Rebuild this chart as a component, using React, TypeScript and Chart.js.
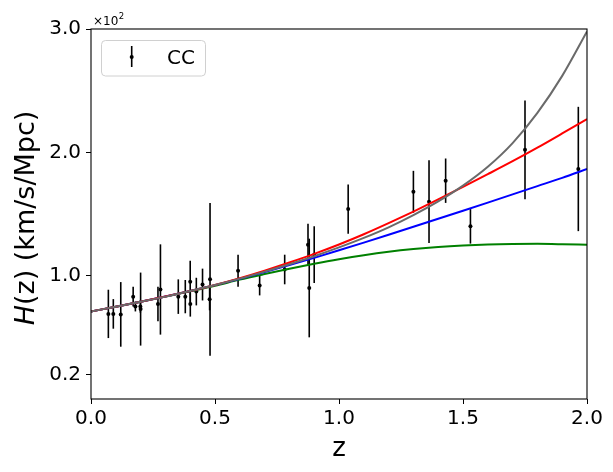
import { useEffect, useRef } from "react";
import { Chart, registerables } from "chart.js";

Chart.register(...registerables);

// Cosmic chronometer data
const ccZ = [0.07, 0.09, 0.12, 0.17, 0.179, 0.199, 0.2, 0.27, 0.28, 0.352, 0.3802, 0.4, 0.4004, 0.4247, 0.4497, 0.4783, 0.48, 0.593, 0.68, 0.781, 0.875, 0.88, 0.9, 1.037, 1.3, 1.363, 1.43, 1.53, 1.75, 1.965];
const ccH = [69, 69, 68.6, 83, 75, 75, 72.9, 77, 88.8, 83, 83, 95, 77, 87.1, 92.8, 80.9, 97, 104, 92, 105, 125, 90, 117, 154, 168, 160, 177, 140, 202, 186.5];
const ccErr = [19.6, 12, 26.2, 8, 4, 5, 29.6, 14, 36.6, 14, 13.5, 17, 10.2, 11.2, 12.9, 9, 62, 13, 8, 12, 17, 40, 23, 20, 17, 33.6, 18, 14, 40, 50.4];

// Model curves
const zGrid = [0, 0.1, 0.2, 0.3, 0.4, 0.5, 0.6, 0.7, 0.8, 0.9, 1.0, 1.1, 1.2, 1.3, 1.4, 1.5, 1.6, 1.7, 1.8, 1.9, 2.0];
const grayH = [71, 74.8, 78.8, 83.0, 87.6, 92.4, 97.6, 103.3, 109.3, 115.8, 122.9, 130.6, 139.2, 149.1, 160.2, 173.0, 188.3, 207.5, 232, 262, 298];
const redH = [71, 74.8, 78.8, 83.05, 87.6, 92.5, 98.0, 104.1, 110.7, 117.7, 125.3, 133.6, 142.6, 152.0, 161.8, 172.0, 182.3, 192.8, 203.8, 215.3, 227];
const blueH = [71, 74.8, 78.8, 83.05, 87.55, 92.35, 97.45, 102.85, 108.55, 114.45, 120.55, 126.8, 133.15, 139.6, 146.1, 152.65, 159.25, 165.9, 172.6, 179.3, 186.5];
const greenH = [71, 74.8, 78.8, 83.0, 87.3, 91.8, 96.8, 101.3, 105.6, 109.6, 113.3, 116.6, 119.4, 121.6, 123.3, 124.5, 125.3, 125.7, 125.8, 125.5, 125.0];

const yTickVals = [20, 100, 200, 300];
const xTickVals = [0, 0.5, 1.0, 1.5, 2.0];

const FONT = "'DejaVu Sans', 'Liberation Sans', sans-serif";

const toPts = (xs: number[], ys: number[]) => xs.map((x, i) => ({ x, y: ys[i] }));

const errorBarPlugin = {
  id: "errorBars",
  beforeDatasetsDraw(chart: any) {
    const { ctx, chartArea } = chart;
    const xs = chart.scales.x;
    const ys = chart.scales.y;
    ctx.save();
    ctx.beginPath();
    ctx.rect(chartArea.left, chartArea.top, chartArea.right - chartArea.left, chartArea.bottom - chartArea.top);
    ctx.clip();
    ctx.strokeStyle = "#000";
    ctx.lineWidth = 1.6;
    for (let i = 0; i < ccZ.length; i++) {
      const px = xs.getPixelForValue(ccZ[i]);
      ctx.beginPath();
      ctx.moveTo(px, ys.getPixelForValue(ccH[i] - ccErr[i]));
      ctx.lineTo(px, ys.getPixelForValue(ccH[i] + ccErr[i]));
      ctx.stroke();
    }
    ctx.restore();
  },
};

const decorPlugin = {
  id: "decor",
  afterDraw(chart: any) {
    const { ctx, chartArea } = chart;
    const { left, top, right, bottom } = chartArea;
    ctx.save();
    // frame
    ctx.strokeStyle = "#000";
    ctx.lineWidth = 1.1;
    ctx.strokeRect(left, top, right - left, bottom - top);

    // offset text x10^2
    ctx.fillStyle = "#000";
    ctx.textAlign = "left";
    ctx.textBaseline = "alphabetic";
    ctx.font = `12px ${FONT}`;
    ctx.fillText("×10", left + 2, top - 4);
    const w = ctx.measureText("×10").width;
    ctx.font = `8.5px ${FONT}`;
    ctx.fillText("2", left + 2 + w + 0.5, top - 10);

    // x title
    ctx.font = `26px ${FONT}`;
    ctx.textAlign = "center";
    ctx.textBaseline = "alphabetic";
    ctx.fillText("z", (left + right) / 2, 456);

    // y title (rotated)
    ctx.save();
    ctx.translate(33.5, 218);
    ctx.rotate(-Math.PI / 2);
    const fsz = 27;
    const parts = [
      { t: "H", f: `italic ${fsz}px ${FONT}` },
      { t: "(z) (km/s/Mpc)", f: `${fsz}px ${FONT}` },
    ];
    let total = 0;
    for (const p of parts) {
      ctx.font = p.f;
      total += ctx.measureText(p.t).width;
    }
    let cx = -total / 2;
    ctx.textAlign = "left";
    for (const p of parts) {
      ctx.font = p.f;
      ctx.fillText(p.t, cx, 0);
      cx += ctx.measureText(p.t).width;
    }
    ctx.restore();

    // legend
    const lx = 101.5, ly = 40.5, lw = 104, lh = 35.5, r = 4;
    ctx.beginPath();
    ctx.moveTo(lx + r, ly);
    ctx.lineTo(lx + lw - r, ly);
    ctx.quadraticCurveTo(lx + lw, ly, lx + lw, ly + r);
    ctx.lineTo(lx + lw, ly + lh - r);
    ctx.quadraticCurveTo(lx + lw, ly + lh, lx + lw - r, ly + lh);
    ctx.lineTo(lx + r, ly + lh);
    ctx.quadraticCurveTo(lx, ly + lh, lx, ly + lh - r);
    ctx.lineTo(lx, ly + r);
    ctx.quadraticCurveTo(lx, ly, lx + r, ly);
    ctx.closePath();
    ctx.fillStyle = "rgba(255,255,255,0.8)";
    ctx.fill();
    ctx.strokeStyle = "#d0d0d0";
    ctx.lineWidth = 1;
    ctx.stroke();

    ctx.strokeStyle = "#000";
    ctx.lineWidth = 1.6;
    ctx.beginPath();
    ctx.moveTo(131.7, 46);
    ctx.lineTo(131.7, 67);
    ctx.stroke();
    ctx.fillStyle = "#000";
    ctx.beginPath();
    ctx.arc(131.7, 57, 2, 0, Math.PI * 2);
    ctx.fill();

    ctx.font = `20px ${FONT}`;
    ctx.textAlign = "left";
    ctx.textBaseline = "middle";
    ctx.fillText("CC", 167, 59);
    ctx.restore();
  },
};

export default function App() {
  const ref = useRef<HTMLCanvasElement | null>(null);

  useEffect(() => {
    if (!ref.current) return;
    const lineDs = (label: string, ys: number[], color: string, order: number) => ({
      label,
      type: "line" as const,
      data: toPts(zGrid, ys),
      borderColor: color,
      backgroundColor: color,
      borderWidth: 2,
      pointRadius: 0,
      cubicInterpolationMode: "monotone" as const,
      fill: false,
      order,
    });
    const chart = new Chart(ref.current, {
      type: "line",
      data: {
        datasets: [
          {
            label: "CC",
            type: "scatter",
            data: toPts(ccZ, ccH),
            pointRadius: 2,
            pointBackgroundColor: "#000",
            pointBorderColor: "#000",
            pointBorderWidth: 0,
            showLine: false,
            order: 10,
          } as any,
          lineDs("green", greenH, "#008000", 4),
          lineDs("blue", blueH, "#0000ff", 3),
          lineDs("red", redH, "#ff0000", 2),
          lineDs("gray", grayH, "#6a6a6a", 1),
        ],
      },
      options: {
        animation: false,
        responsive: false,
        devicePixelRatio: 1,
        layout: { padding: { left: 0, top: 29, right: 26, bottom: 0 } },
        plugins: {
          legend: { display: false },
          tooltip: { enabled: false },
        },
        events: [],
        scales: {
          x: {
            type: "linear",
            min: 0,
            max: 2,
            afterBuildTicks: (s: any) => {
              s.ticks = xTickVals.map((v) => ({ value: v }));
            },
            afterFit: (s: any) => {
              s.height = 73;
            },
            ticks: {
              font: { family: FONT, size: 20 },
              color: "#000",
              padding: 3,
              maxRotation: 0,
              callback: (v: any) => Number(v).toFixed(1),
            },
            grid: {
              display: true,
              drawOnChartArea: false,
              drawTicks: true,
              tickLength: 5,
              color: "#000",
              lineWidth: 1,
            },
            border: { display: false },
          },
          y: {
            type: "linear",
            min: 0,
            max: 300,
            afterBuildTicks: (s: any) => {
              s.ticks = yTickVals.map((v) => ({ value: v }));
            },
            afterFit: (s: any) => {
              s.width = 91;
            },
            ticks: {
              font: { family: FONT, size: 20 },
              color: "#000",
              padding: 5,
              callback: (v: any) => (Number(v) / 100).toFixed(1),
            },
            grid: {
              display: true,
              drawOnChartArea: false,
              drawTicks: true,
              tickLength: 5,
              color: "#000",
              lineWidth: 1,
            },
            border: { display: false },
          },
        },
      },
      plugins: [errorBarPlugin, decorPlugin],
    });
    return () => chart.destroy();
  }, []);

  return (
    <div style={{ position: "absolute", left: 0, top: 0, width: 613, height: 472, background: "#fff" }}>
      <canvas ref={ref} width={613} height={472} style={{ width: 613, height: 472, display: "block" }} />
    </div>
  );
}
